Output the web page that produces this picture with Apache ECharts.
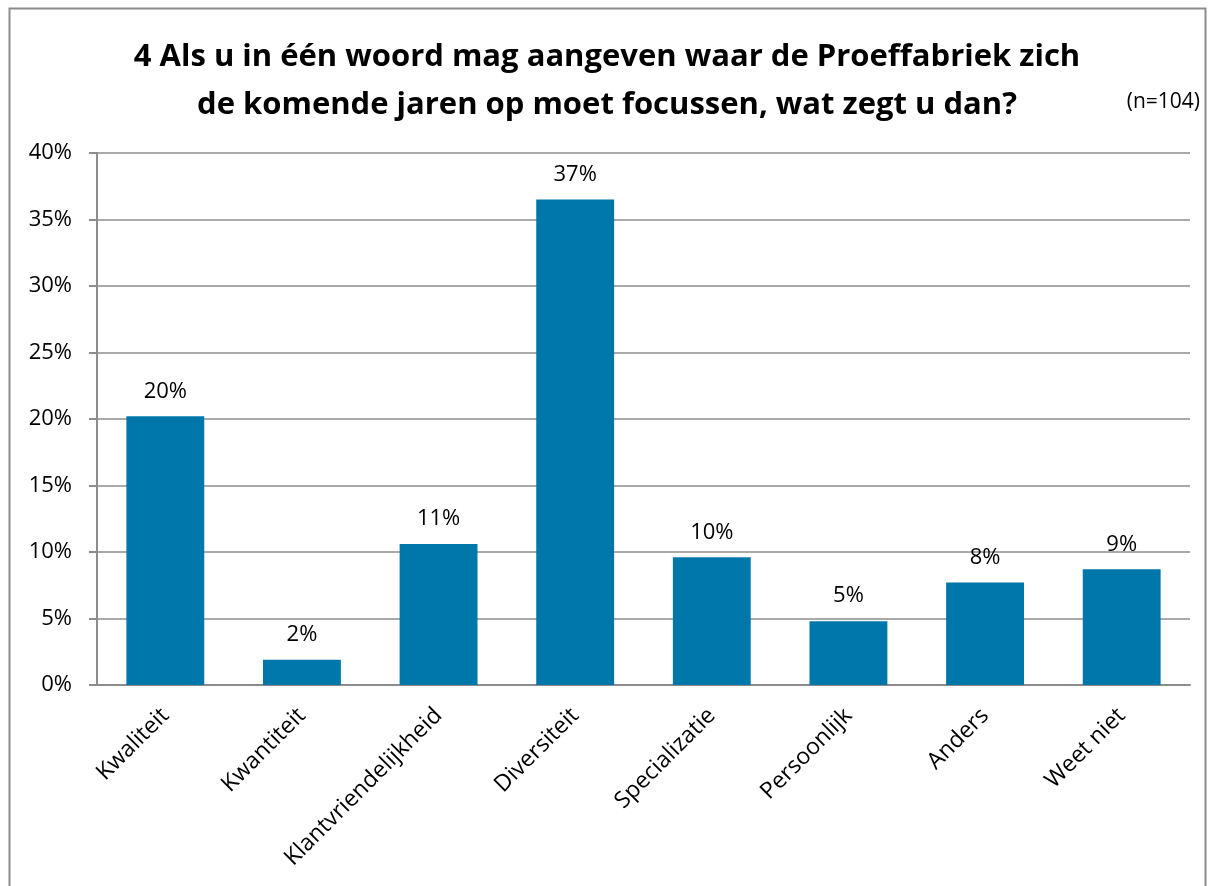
<!DOCTYPE html>
<html>
<head>
<meta charset="utf-8">
<script src="https://cdn.jsdelivr.net/npm/echarts@6/dist/echarts.min.js"></script>
<style>
  html, body { margin: 0; padding: 0; background: #fff; }
  #main { width: 1214px; height: 886px; }
</style>
</head>
<body>
<div id="main"></div>
<script>
var categories = ['Kwaliteit', 'Kwantiteit', 'Klantvriendelijkheid', 'Diversiteit', 'Specializatie', 'Persoonlijk', 'Anders', 'Weet niet'];
// aandeel van n=104
var shares = [0.202, 0.019, 0.106, 0.365, 0.096, 0.048, 0.077, 0.087];
var yTicks = [0, 0.05, 0.10, 0.15, 0.20, 0.25, 0.30, 0.35, 0.40];

var font = '"Open Sans", "Noto Sans", sans-serif';
var gridColor = '#8c8c8c';

var myChart = echarts.init(document.getElementById('main'));
var option = {
    backgroundColor: '#fff',
    animation: false,
    title: {
        text: '4 Als u in één woord mag aangeven waar de Proeffabriek zich\nde komende jaren op moet focussen, wat zegt u dan?',
        left: 'center',
        top: 28,
        textStyle: {
            fontFamily: font,
            fontSize: 31,
            fontWeight: 'bold',
            color: '#000',
            lineHeight: 48
        }
    },
    graphic: [{
        type: 'rect',
        shape: { x: 9.5, y: 8.5, width: 1196, height: 900 },
        style: { fill: 'none', stroke: '#8c8c8c', lineWidth: 2 },
        silent: true
    }, {
        type: 'text',
        right: 14,
        top: 92,
        style: { text: '(n=104)', fontFamily: font, fontSize: 21, fill: '#000' }
    }],
    grid: { left: 97, right: 24, top: 153, bottom: 201 },
    xAxis: {
        type: 'category',
        data: categories,
        axisLine: { lineStyle: { color: gridColor, width: 2 } },
        axisTick: { length: 8, lineStyle: { color: gridColor, width: 2 } },
        axisLabel: {
            rotate: 45,
            margin: 27,
            fontFamily: font,
            fontSize: 23,
            color: '#000'
        }
    },
    yAxis: {
        type: 'value',
        min: 0,
        max: 0.4,
        interval: 0.05,
        axisLine: { show: true, lineStyle: { color: gridColor, width: 2 } },
        axisTick: { show: true, length: 8, lineStyle: { color: gridColor, width: 2 } },
        splitLine: { lineStyle: { color: gridColor, width: 1.5 } },
        axisLabel: {
            margin: 25,
            fontFamily: font,
            fontSize: 22,
            color: '#000',
            formatter: function (v) { return Math.round(v * 100) + '%'; }
        }
    },
    series: [{
        type: 'bar',
        data: shares,
        barWidth: '57%',
        itemStyle: { color: '#0077ab' },
        label: {
            show: true,
            position: 'top',
            distance: 14,
            fontFamily: font,
            fontSize: 22,
            color: '#000',
            formatter: function (p) { return Math.round(p.value * 100) + '%'; }
        }
    }]
};
myChart.setOption(option);
</script>
</body>
</html>
